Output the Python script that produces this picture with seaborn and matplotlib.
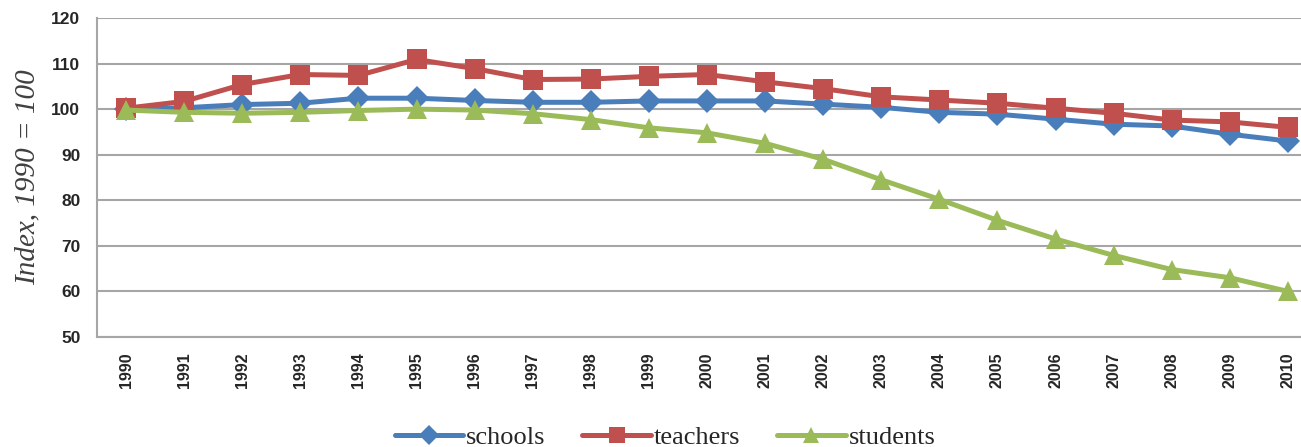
import matplotlib
matplotlib.use("Agg")
import matplotlib.pyplot as plt
from matplotlib.lines import Line2D
import seaborn as sns
import pandas as pd

years = list(range(1990, 2011))
schools = [100, 100.3, 101.0, 101.3, 102.4, 102.4, 101.9, 101.5, 101.5, 101.8, 101.8,
           101.8, 101.1, 100.4, 99.3, 98.9, 97.8, 96.7, 96.3, 94.5, 93.0]
teachers = [100.2, 101.7, 105.4, 107.6, 107.4, 110.9, 108.9, 106.5, 106.6, 107.2, 107.6,
            106.0, 104.5, 102.7, 102.0, 101.3, 100.2, 99.1, 97.6, 97.2, 96.0]
students = [99.8, 99.3, 99.1, 99.3, 99.7, 100.0, 99.8, 99.0, 97.7, 95.9, 94.8,
            92.5, 89.0, 84.5, 80.2, 75.6, 71.5, 67.9, 64.8, 63.0, 60.0]
series_names = ["schools", "teachers", "students"]
colors = ["#4A7EBB", "#C0504D", "#9BBB59"]
marker_map = {"schools": "D", "teachers": "s", "students": "^"}
y_ticks = [50, 60, 70, 80, 90, 100, 110, 120]

df = pd.DataFrame({
    "year": years * 3,
    "value": schools + teachers + students,
    "series": [n for n in series_names for _ in years],
})

sns.set_theme(style="white")
fig = plt.figure(figsize=(13.01, 4.47), dpi=100)
ax = fig.add_axes([97 / 1301, 1 - 337 / 447, (1317 - 97) / 1301, (337 - 18) / 447])

sns.lineplot(data=df, x="year", y="value", hue="series", style="series",
             hue_order=series_names, style_order=series_names,
             palette=colors, markers=marker_map,
             dashes=False, linewidth=3.6, markersize=12, markeredgewidth=0,
             ax=ax, legend=False)

msize = {"D": 12.5, "s": 14.5, "^": 14.5}
for ln in ax.lines:
    m = ln.get_marker()
    if m in msize:
        ln.set_markersize(msize[m])

ax.set_xlim(1989.5, 2010.5)
ax.set_ylim(50, 120)
ax.set_yticks(y_ticks)
ax.set_xticks(years)
ax.set_xticklabels([str(y) for y in years], rotation=90)
ax.grid(axis="y", color="#A6A6A6", linewidth=1.5)
ax.set_axisbelow(True)
for s in ["top", "right"]:
    ax.spines[s].set_visible(False)
for s in ["left", "bottom"]:
    ax.spines[s].set_color("#A6A6A6")
    ax.spines[s].set_linewidth(1.5)

for lab in ax.get_yticklabels():
    lab.set_fontfamily(["Liberation Sans", "DejaVu Sans"])
    lab.set_fontweight("bold")
    lab.set_fontsize(12.5)
    lab.set_color("#262626")
for lab in ax.get_xticklabels():
    lab.set_fontfamily(["Liberation Sans", "DejaVu Sans"])
    lab.set_fontweight("bold")
    lab.set_fontsize(11.5)
    lab.set_color("#262626")
ax.tick_params(axis="y", pad=12, length=0)
ax.tick_params(axis="x", pad=11, length=0)

ax.set_xlabel("")
ax.set_ylabel("Index, 1990 = 100", family=["Liberation Serif", "DejaVu Serif"],
              style="italic", fontsize=21, color="#404040", labelpad=8)

handles = [Line2D([], [], color=c, linewidth=3.6, marker=marker_map[n],
                  markersize={"D": 10, "s": 12, "^": 12}[marker_map[n]], markeredgewidth=0)
           for n, c in zip(series_names, colors)]
ax.legend(handles, series_names, loc="center", bbox_to_anchor=(665 / 1301, 1 - 437 / 447),
          bbox_transform=fig.transFigure, ncol=3, frameon=False,
          prop={"family": "Liberation Serif", "size": 19}, handlelength=2.6,
          handletextpad=0.1, columnspacing=1.4, borderaxespad=0)

fig.savefig("out.png", dpi=100)
